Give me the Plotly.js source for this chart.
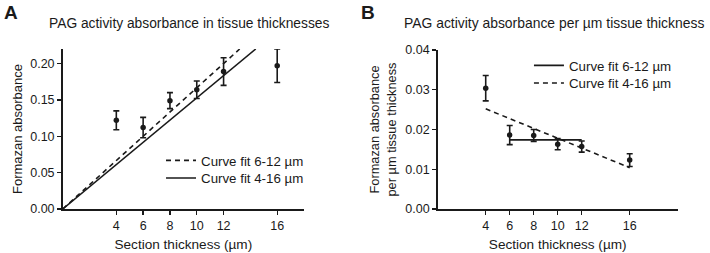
<!DOCTYPE html>
<html><head><meta charset="utf-8">
<script src="https://cdn.plot.ly/plotly-3.0.1.min.js"></script>
<style>html,body{margin:0;padding:0;background:#fff}#c{width:710px;height:253px}</style>
</head><body><div id="c"></div>
<script>
// Panel A: absorbance vs section thickness
const thickness = [4, 6, 8, 10, 12, 16];
const absA = [0.122, 0.112, 0.149, 0.164, 0.189, 0.197];
const errA = [0.013, 0.014, 0.011, 0.012, 0.019, 0.023];
const fitA612_x = [0, 13.2];
const fitA612_y = [0, 0.22];
const fitA416_x = [0, 14.4];
const fitA416_y = [0, 0.22];
// Panel B: absorbance per µm thickness
const absB = [0.0304, 0.0186, 0.0185, 0.0163, 0.0157, 0.0123];
const errB = [0.0032, 0.0024, 0.0015, 0.0014, 0.0014, 0.0016];
const fitB612_x = [6, 12];
const fitB612_y = [0.0174, 0.0174];
const fitB416_x = [4, 16];
const fitB416_y = [0.0252, 0.0104];
const xTicks = [4, 6, 8, 10, 12, 16];
const yTicksA = [0, 0.05, 0.10, 0.15, 0.20];
const yTicksB = [0, 0.01, 0.02, 0.03, 0.04];

const ink = '#1a1a1a';
const FONT = 'Liberation Sans, Arial, sans-serif';
const dashP = '5px,4px';
const XTF = {family: FONT, size: 13.6, color: ink};
const LF = {family: FONT, size: 13.3, color: ink};

function leg(x, y) {
  return {x: x, y: y, xanchor: 'left', yanchor: 'middle', bgcolor: 'rgba(0,0,0,0)', itemwidth: 30, font: LF};
}

const traces = [
  {x: fitA612_x, y: fitA612_y, mode: 'lines', name: 'Curve fit 6-12 µm', line: {color: ink, width: 1.6, dash: dashP}, xaxis: 'x', yaxis: 'y', legend: 'legend'},
  {x: fitA416_x, y: fitA416_y, mode: 'lines', name: 'Curve fit 4-16 µm', line: {color: ink, width: 1.6}, xaxis: 'x', yaxis: 'y', legend: 'legend2'},
  {x: thickness, y: absA, mode: 'markers', showlegend: false, marker: {color: ink, size: 5.5},
   error_y: {type: 'data', array: errA, color: ink, thickness: 1.6, width: 3}, xaxis: 'x', yaxis: 'y'},
  {x: fitB612_x, y: fitB612_y, mode: 'lines', name: 'Curve fit 6-12 µm', line: {color: ink, width: 1.6}, xaxis: 'x2', yaxis: 'y2', legend: 'legend3'},
  {x: fitB416_x, y: fitB416_y, mode: 'lines', name: 'Curve fit 4-16 µm', line: {color: ink, width: 1.6, dash: dashP}, xaxis: 'x2', yaxis: 'y2', legend: 'legend4'},
  {x: thickness, y: absB, mode: 'markers', showlegend: false, marker: {color: ink, size: 5.5},
   error_y: {type: 'data', array: errB, color: ink, thickness: 1.6, width: 3}, xaxis: 'x2', yaxis: 'y2'}
];

const axBase = {showgrid: false, zeroline: false, showline: true, linecolor: ink, linewidth: 1.6,
  ticks: 'outside', ticklen: 4, tickwidth: 1.4, tickcolor: ink, tickfont: {family: FONT, size: 12.5, color: ink}};

const layout = {
  width: 710, height: 253, margin: {l: 0, r: 0, t: 0, b: 0},
  paper_bgcolor: '#fff', plot_bgcolor: '#fff', font: {family: FONT, color: ink},
  xaxis: Object.assign({}, axBase, {domain: [0.0883, 0.4282], range: [0, 18], tickvals: xTicks, ticktext: xTicks.map(String),
    title: {text: 'Section thickness (µm)', font: XTF, standoff: 8}}),
  yaxis: Object.assign({}, axBase, {domain: [0.1739, 0.8063], range: [0, 0.22], tickvals: yTicksA, ticktext: yTicksA.map(v => v.toFixed(2)),
    title: {text: 'Formazan absorbance', font: {family: FONT, size: 13.0, color: ink}, standoff: 4}}),
  xaxis2: Object.assign({}, axBase, {domain: [0.6165, 0.9545], range: [0, 20], anchor: 'y2', tickvals: xTicks, ticktext: xTicks.map(String),
    title: {text: 'Section thickness (µm)', font: XTF, standoff: 8}}),
  yaxis2: Object.assign({}, axBase, {domain: [0.1739, 0.8024], range: [0, 0.04], anchor: 'x2', tickvals: yTicksB, ticktext: yTicksB.map(v => v.toFixed(2)),
    title: {text: 'Formazan absorbance<br>per µm tissue thickness', font: {family: FONT, size: 12.8, color: ink}, standoff: 6}}),
  legend: leg(0.2268, 1 - 160.7 / 253),
  legend2: leg(0.2268, 1 - 178.3 / 253),
  legend3: leg(0.745, 1 - 65.7 / 253),
  legend4: leg(0.745, 1 - 83.3 / 253),
  annotations: [
    {text: '<b>A</b>', x: 2 / 710, y: 1 - 0 / 253, xref: 'paper', yref: 'paper', xanchor: 'left', yanchor: 'top', showarrow: false, font: {family: FONT, size: 19, color: ink}},
    {text: '<b>B</b>', x: 359 / 710, y: 1 - 0 / 253, xref: 'paper', yref: 'paper', xanchor: 'left', yanchor: 'top', showarrow: false, font: {family: FONT, size: 19, color: ink}},
    {text: 'PAG activity absorbance in tissue thicknesses', x: 190 / 710, y: 1 - 23 / 253, xref: 'paper', yref: 'paper', xanchor: 'center', yanchor: 'middle', showarrow: false, font: {family: FONT, size: 13.8, color: ink}},
    {text: 'PAG activity absorbance per µm tissue thickness', x: 554 / 710, y: 1 - 23 / 253, xref: 'paper', yref: 'paper', xanchor: 'center', yanchor: 'middle', showarrow: false, font: {family: FONT, size: 13.9, color: ink}}
  ],
  showlegend: true
};

Plotly.newPlot('c', traces, layout, {staticPlot: true, displayModeBar: false});
</script></body></html>
